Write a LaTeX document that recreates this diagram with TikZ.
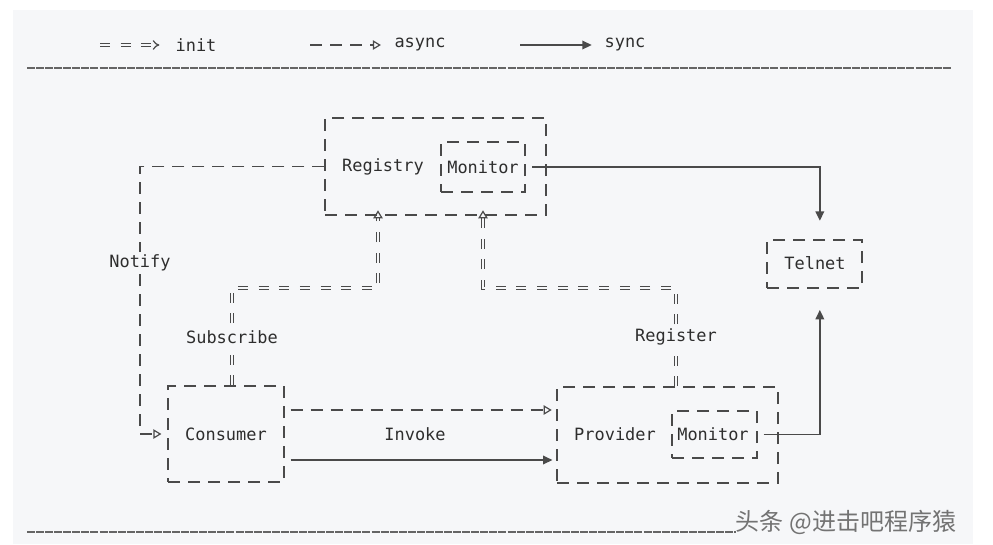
\documentclass[tikz,border=0pt]{standalone}
\usepackage{fontspec}
\setmonofont{DejaVu Sans Mono}
\newfontfamily\cjkfont{Noto Sans CJK SC}
\usepackage{tikz}
\usetikzlibrary{arrows.meta,positioning,calc,fit}
\pgfdeclarelayer{bg}
\pgfsetlayers{bg,main}
\definecolor{panel}{HTML}{F6F7F9}
\definecolor{ink}{HTML}{2E2E2E}
\definecolor{wire}{HTML}{4A4A4A}

\begin{document}
\begin{tikzpicture}[x=0.75pt, y=-0.75pt,
    lbl/.style={font=\ttfamily\fontsize{12.7}{15}\selectfont, text=ink, inner sep=2pt},
    cut/.style={lbl, fill=panel},
    dbox/.style={draw=wire, line width=0.9pt, dash pattern=on 9pt off 6pt, inner sep=0pt},
    asyncline/.style={draw=wire, line width=0.9pt, dash pattern=on 9pt off 6pt, -{Triangle[open, length=6pt, width=7pt]}},
    syncline/.style={draw=wire, line width=1pt, -{Triangle[length=7pt, width=6.5pt]}},
    initline/.style={draw=wire, line width=0.9pt, double=panel, double distance=1.5pt, dash pattern=on 7.5pt off 8pt},
    sepline/.style={draw=wire!85, line width=1.3pt, dash pattern=on 6pt off 0.8pt}]
    \useasboundingbox (0,0) rectangle (993,544);

    \node[lbl] (init) at (196,45) {init};
    \node[lbl] (async) at (420,45) {async};
    \node[lbl] (sync) at (625,45) {sync};
    \coordinate (initfrom) at (100,45);
    \coordinate (asyncfrom) at (310,45);
    \coordinate (syncfrom) at (520,45);
    \coordinate (sepleft) at (27,68);
    \coordinate (sepright) at (951,68);
    \coordinate (footleft) at (27,532);
    \coordinate (footright) at (736,532);

    \node[lbl] (registry) at (383,167) {Registry};
    \node[lbl] (regmonitor) at (483,167) {Monitor};
    \node[dbox, fit={(441,142) (525,192)}] (regmonbox) {};
    \node[dbox, fit={(325,118) (546,215)}] (regbox) {};
    \node[lbl] (telnet) at (815,263) {Telnet};
    \node[dbox, fit={(767,240) (862,288)}] (telbox) {};
    \node[cut] (notify) at (140,263) {Notify};
    \node[cut] (subscribe) at (232,337) {Subscribe};
    \node[cut] (register) at (676,337) {Register};
    \node[lbl] (consumer) at (226,434) {Consumer};
    \node[dbox, fit={(168,386) (284,482)}] (conbox) {};
    \node[lbl] (invoke) at (415,434) {Invoke};
    \node[lbl] (provider) at (615,434) {Provider};
    \node[lbl] (provmonitor) at (713,434) {Monitor};
    \node[dbox, fit={(672,411) (757,458)}] (provmonbox) {};
    \node[dbox, fit={(557,387) (778,483)}] (provbox) {};
    \coordinate (subcorner) at (232,288);
    \coordinate (subup) at (378,288);
    \coordinate (regcorner) at (676,288);
    \coordinate (regup) at (483,288);

    \node[font=\cjkfont\fontsize{18}{20}\selectfont, text=black!55] (mark) at (846,522) {头条 @进击吧程序猿};

    \begin{pgfonlayer}{bg}
    \fill[white] (0,0) rectangle (993,544);
    \fill[panel] (13,10) rectangle (973,544);
    \draw[sepline] (sepleft) -- (sepright);
    \draw[sepline] (footleft) -- (footright);
    \draw[initline, -Implies, shorten >=10pt] (initfrom) -- (init.west);
    \draw[asyncline, shorten >=8pt] (asyncfrom) -- (async.west);
    \draw[syncline, shorten >=7.5pt] (syncfrom) -- (sync.west);

    \draw[asyncline, shorten >=4.5pt] (regbox.west) -| (notify) |- (conbox.west);
    \draw[initline, -{Triangle[open, length=6pt, width=7pt]}, shorten >=-4pt] (conbox.north -| subcorner) -- (subcorner) -- (subup) -- (regbox.south -| subup);
    \draw[initline, -{Triangle[open, length=6pt, width=7pt]}, shorten >=-4pt] (provbox.north -| regcorner) -- (regcorner) -- (regup) -- (regbox.south -| regup);
    \draw[asyncline, shorten <=4.5pt, shorten >=3.5pt] ($(conbox.east)+(0,-24)$) coordinate (asy) -- (asy -| provbox.west);
    \draw[syncline, shorten <=4.5pt, shorten >=3pt] ($(conbox.east)+(0,26)$) coordinate (sy) -- (sy -| provbox.west);
    \draw[syncline, shorten <=5pt, shorten >=14pt] (regmonbox.east) -| ([xshift=4pt]telbox.north);
    \draw[syncline, shorten <=4.5pt, shorten >=16pt] (provmonbox.east) -| ([xshift=4pt]telbox.south);
    \end{pgfonlayer}
\end{tikzpicture}
\end{document}
